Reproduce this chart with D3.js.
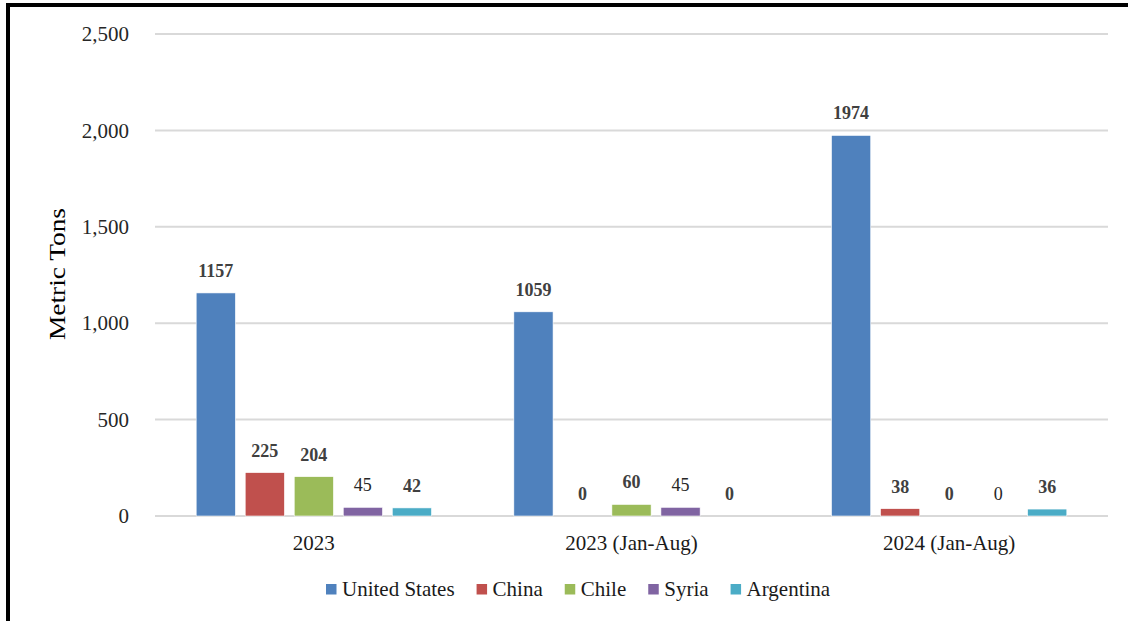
<!DOCTYPE html>
<html>
<head>
<meta charset="utf-8">
<script src="https://cdn.jsdelivr.net/npm/d3@7"></script>
<style>
  html, body { margin: 0; padding: 0; background: #fff; }
  svg { display: block; }
  text { font-family: "Liberation Serif", "Times New Roman", serif; }
</style>
</head>
<body>
<svg id="chart" width="1128" height="621"></svg>
<script>
const categories = ["2023", "2023 (Jan-Aug)", "2024 (Jan-Aug)"];
const seriesNames = ["United States", "China", "Chile", "Syria", "Argentina"];
const unitedStates = [1157, 1059, 1974];
const china = [225, 0, 38];
const chile = [204, 60, 0];
const syria = [45, 45, 0];
const argentina = [42, 0, 36];
const yTicks = [0, 500, 1000, 1500, 2000, 2500];
const yTitle = "Metric Tons";

const seriesValues = [unitedStates, china, chile, syria, argentina];
const colors = ["#4F81BD", "#C0504D", "#9BBB59", "#8064A2", "#4BACC6"];
const boldLabel = [true, true, true, false, true];

const svg = d3.select("#chart");
const W = 1128, H = 621;
const plot = { left: 155, right: 1108, top: 34, bottom: 516 };

// frame lines
svg.append("path")
  .attr("d", `M8,${H} L8,5 L${W},5`)
  .attr("fill", "none").attr("stroke", "#000").attr("stroke-width", 4);

const y = d3.scaleLinear().domain([0, 2500]).range([plot.bottom, plot.top]);
const x0 = d3.scaleBand().domain(categories).range([plot.left, plot.right]).padding(0);
const x1 = d3.scaleBand().domain(seriesNames).range([0, x0.bandwidth()])
  .paddingInner(0.2).paddingOuter(0.84);

// gridlines
svg.append("g").selectAll("line").data(yTicks).join("line")
  .attr("x1", plot.left).attr("x2", plot.right)
  .attr("y1", d => y(d)).attr("y2", d => y(d))
  .attr("stroke", "#d9d9d9").attr("stroke-width", 2);

// y axis labels
const fmt = d3.format(",");
svg.append("g").selectAll("text").data(yTicks).join("text")
  .attr("x", 129).attr("y", d => y(d)).attr("dy", "0.34em")
  .attr("text-anchor", "end").attr("font-size", 21).attr("fill", "#262626")
  .text(d => fmt(d));

// y title
svg.append("text")
  .attr("transform", `translate(65,274) rotate(-90)`)
  .attr("text-anchor", "middle").attr("font-size", 24).attr("fill", "#000")
  .attr("textLength", 132).attr("lengthAdjust", "spacingAndGlyphs")
  .text(yTitle);

// bars
const groups = svg.append("g").selectAll("g").data(seriesNames).join("g");
groups.each(function(name, si) {
  const g = d3.select(this);
  const vals = seriesValues[si].map((v, ci) => ({ v, c: categories[ci] }));
  g.selectAll("rect").data(vals).join("rect")
    .attr("x", d => x0(d.c) + x1(name))
    .attr("width", x1.bandwidth())
    .attr("y", d => y(d.v))
    .attr("height", d => y(0) - y(d.v))
    .attr("fill", colors[si])
    .attr("stroke", "#fff").attr("stroke-width", 0.6);
  g.selectAll("text").data(vals).join("text")
    .attr("x", d => x0(d.c) + x1(name) + x1.bandwidth() / 2)
    .attr("y", d => y(d.v) - 16)
    .attr("text-anchor", "middle")
    .attr("font-size", 18)
    .attr("font-weight", boldLabel[si] ? "bold" : "normal")
    .attr("fill", boldLabel[si] ? "#404040" : "#262626")
    .text(d => d.v);
});

// x labels
svg.append("g").selectAll("text").data(categories).join("text")
  .attr("x", d => x0(d) + x0.bandwidth() / 2)
  .attr("y", 550)
  .attr("text-anchor", "middle").attr("font-size", 21).attr("fill", "#1a1a1a")
  .text(d => d);

// legend
const legend = svg.append("g");
let lx = 326;
seriesNames.forEach((name, i) => {
  legend.append("rect").attr("x", lx).attr("y", 584).attr("width", 10.5).attr("height", 10.5)
    .attr("fill", colors[i]);
  const t = legend.append("text").attr("x", lx + 16).attr("y", 596)
    .attr("font-size", 21).attr("fill", "#1a1a1a").text(name);
  lx += 16 + t.node().getComputedTextLength() + 22;
});
</script>
</body>
</html>
